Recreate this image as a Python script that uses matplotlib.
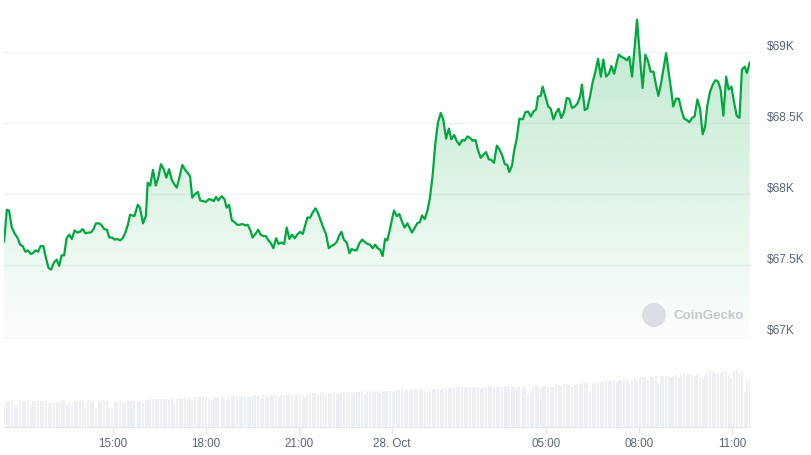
import matplotlib
matplotlib.use("Agg")
import matplotlib.pyplot as plt
import numpy as np
from matplotlib.colors import to_rgb
from matplotlib.patches import Ellipse

# ---- data (hours since 27 Oct 00:00, price in USD, 24h volume in $B) ----
hours = [
    11.48, 11.57, 11.64, 11.73, 11.83, 11.91, 12.00, 12.08, 12.17, 12.25,
    12.34, 12.42, 12.49, 12.58, 12.66, 12.75, 12.84, 12.92, 13.00, 13.09,
    13.18, 13.26, 13.34, 13.42, 13.50, 13.59, 13.67, 13.76, 13.85, 13.93,
    14.02, 14.11, 14.19, 14.28, 14.36, 14.45, 14.54, 14.62, 14.71, 14.80,
    14.88, 14.97, 15.05, 15.14, 15.23, 15.31, 15.40, 15.48, 15.55, 15.62,
    15.69, 15.80, 15.87, 15.97, 16.06, 16.12, 16.20, 16.29, 16.38, 16.46,
    16.55, 16.64, 16.72, 16.81, 16.90, 16.98, 17.06, 17.16, 17.24, 17.33,
    17.41, 17.49, 17.56, 17.65, 17.74, 17.82, 17.92, 18.00, 18.10, 18.19,
    18.25, 18.33, 18.40, 18.51, 18.60, 18.67, 18.75, 18.84, 18.92, 19.01,
    19.09, 19.18, 19.27, 19.35, 19.44, 19.51, 19.60, 19.69, 19.77, 19.86,
    19.94, 20.02, 20.10, 20.18, 20.27, 20.35, 20.44, 20.53, 20.61, 20.70,
    20.78, 20.87, 20.95, 21.04, 21.13, 21.21, 21.28, 21.37, 21.45, 21.54,
    21.62, 21.71, 21.80, 21.88, 21.97, 22.05, 22.14, 22.23, 22.31, 22.38,
    22.46, 22.55, 22.64, 22.71, 22.79, 22.87, 22.96, 23.05, 23.13, 23.22,
    23.30, 23.39, 23.47, 23.55, 23.63, 23.71, 23.79, 23.86, 23.95, 24.04,
    24.08, 24.17, 24.25, 24.34, 24.42, 24.51, 24.60, 24.66, 24.75, 24.83,
    24.92, 24.98, 25.07, 25.16, 25.24, 25.33, 25.41, 25.50, 25.59, 25.67,
    25.76, 25.85, 25.93, 26.02, 26.10, 26.19, 26.28, 26.36, 26.45, 26.53,
    26.62, 26.71, 26.79, 26.88, 26.96, 27.05, 27.14, 27.22, 27.31, 27.40,
    27.48, 27.57, 27.66, 27.74, 27.80, 27.89, 27.96, 28.04, 28.13, 28.24,
    28.32, 28.41, 28.50, 28.58, 28.67, 28.73, 28.82, 28.88, 28.97, 29.06,
    29.14, 29.23, 29.31, 29.40, 29.48, 29.57, 29.66, 29.74, 29.83, 29.92,
    30.00, 30.09, 30.15, 30.24, 30.32, 30.41, 30.50, 30.58, 30.67, 30.76,
    30.84, 30.93, 31.02, 31.10, 31.19, 31.27, 31.34, 31.42, 31.51, 31.60,
    31.68, 31.77, 31.86, 31.93, 32.03, 32.11, 32.20, 32.29, 32.37, 32.46,
    32.54, 32.62, 32.70, 32.78, 32.87, 32.95, 33.04, 33.10, 33.19, 33.28,
    33.36, 33.45, 33.54, 33.62, 33.71, 33.79, 33.88, 33.97, 34.05, 34.13,
    34.20, 34.29, 34.38, 34.46, 34.55, 34.63, 34.72, 34.81, 34.89, 34.98,
    35.06, 35.15, 35.24, 35.32, 35.41, 35.48, 35.57,
]

prices = [
    67665, 67890, 67885, 67765, 67720, 67695, 67645, 67635, 67595, 67605,
    67580, 67585, 67605, 67595, 67635, 67635, 67545, 67480, 67470, 67520,
    67540, 67495, 67570, 67570, 67690, 67715, 67685, 67745, 67730, 67735,
    67755, 67725, 67730, 67730, 67750, 67795, 67795, 67785, 67755, 67750,
    67695, 67695, 67680, 67685, 67675, 67690, 67730, 67785, 67855, 67850,
    67845, 67925, 67905, 67795, 67845, 68080, 68060, 68170, 68060, 68115,
    68210, 68175, 68115, 68175, 68100, 68070, 68045, 68130, 68205, 68170,
    68150, 68125, 67975, 68000, 68015, 67955, 67950, 67945, 67965, 67960,
    67950, 67980, 67955, 67985, 67965, 67905, 67925, 67815, 67805, 67785,
    67785, 67790, 67780, 67785, 67745, 67695, 67720, 67750, 67715, 67705,
    67705, 67675, 67655, 67620, 67690, 67650, 67660, 67650, 67765, 67685,
    67715, 67690, 67715, 67735, 67720, 67780, 67835, 67835, 67870, 67900,
    67870, 67815, 67760, 67720, 67620, 67635, 67645, 67665, 67710, 67735,
    67680, 67660, 67585, 67615, 67605, 67605, 67655, 67680, 67665, 67650,
    67645, 67620, 67645, 67620, 67610, 67565, 67685, 67675, 67755, 67850,
    67885, 67845, 67860, 67805, 67765, 67795, 67755, 67730, 67765, 67795,
    67805, 67850, 67825, 67885, 67975, 68140, 68350, 68505, 68570, 68525,
    68390, 68460, 68385, 68415, 68375, 68345, 68380, 68375, 68405, 68395,
    68375, 68380, 68310, 68255, 68275, 68295, 68245, 68240, 68220, 68340,
    68315, 68275, 68210, 68205, 68155, 68200, 68305, 68385, 68530, 68525,
    68575, 68580, 68545, 68580, 68595, 68685, 68690, 68755, 68685, 68615,
    68600, 68525, 68570, 68600, 68535, 68575, 68675, 68670, 68605, 68615,
    68635, 68685, 68770, 68590, 68600, 68685, 68790, 68855, 68950, 68825,
    68945, 68825, 68845, 68900, 68845, 68920, 68980, 68965, 68955, 68940,
    68965, 68825, 69050, 69225, 68945, 68745, 68980, 68930, 68860, 68860,
    68770, 68690, 68770, 68875, 68990, 68860, 68720, 68615, 68670, 68670,
    68595, 68530, 68520, 68505, 68535, 68545, 68665, 68595, 68420, 68475,
    68620, 68720, 68770, 68800, 68790, 68735, 68550, 68825, 68735, 68755,
    68650, 68550, 68535, 68875, 68895, 68850, 68925,
]

volumes = [
    11.5, 13.0, 13.2, 13.0, 10.8, 10.8, 13.0, 13.2, 13.0, 13.0, 11.2, 12.8, 12.8, 12.8, 13.0, 12.8, 13.0, 12.0, 12.0, 12.5,
    12.5, 12.5, 12.8, 13.5, 11.2, 12.0, 11.2, 13.0, 13.0, 13.0, 12.8, 12.5, 12.8, 13.0, 13.0, 9.0, 13.0, 13.0, 13.0, 13.0,
    9.5, 9.5, 13.0, 12.5, 13.0, 12.5, 12.0, 12.8, 12.5, 13.2, 13.0, 12.5, 13.0, 11.8, 13.5, 13.5, 14.0, 13.8, 14.0, 14.0,
    14.0, 14.2, 14.2, 13.5, 14.2, 12.5, 14.2, 14.5, 13.8, 14.5, 14.5, 14.0, 13.0, 14.8, 14.8, 15.0, 15.0, 15.0, 14.2, 13.5,
    15.0, 15.2, 15.2, 15.5, 14.2, 13.5, 15.0, 15.5, 15.5, 15.5, 14.8, 15.5, 15.5, 15.0, 15.8, 15.8, 16.0, 15.5, 14.0, 15.8,
    15.8, 15.5, 16.0, 16.2, 16.0, 15.2, 16.2, 16.2, 16.0, 16.5, 16.5, 15.8, 16.5, 16.5, 16.2, 15.0, 16.5, 16.8, 16.8, 16.8,
    16.5, 17.0, 17.0, 16.0, 17.0, 17.0, 17.2, 17.0, 16.5, 17.2, 17.2, 17.5, 17.5, 16.8, 17.5, 17.5, 17.5, 17.8, 16.5, 17.8,
    17.8, 17.5, 18.0, 18.0, 17.0, 18.0, 18.0, 18.2, 18.0, 17.5, 18.2, 18.5, 18.5, 18.5, 17.8, 18.5, 18.5, 18.8, 18.8, 18.5,
    18.8, 19.0, 18.0, 19.0, 19.0, 19.2, 19.2, 19.0, 18.5, 19.5, 19.5, 19.5, 19.8, 19.5, 19.8, 19.8, 20.0, 20.0, 19.8, 20.0,
    20.0, 20.2, 20.0, 19.0, 20.2, 20.2, 20.5, 20.5, 20.2, 20.5, 19.8, 20.0, 20.5, 20.5, 20.5, 20.2, 20.5, 20.0, 20.5, 20.5,
    20.0, 16.5, 17.0, 20.0, 20.5, 20.5, 19.5, 20.5, 20.5, 20.2, 20.0, 20.0, 21.5, 21.2, 20.5, 21.5, 21.5, 21.0, 20.0, 21.0,
    21.5, 21.5, 22.0, 22.0, 22.2, 18.0, 21.5, 22.5, 22.5, 22.5, 23.0, 23.0, 23.0, 23.0, 23.5, 22.5, 23.5, 23.5, 24.0, 24.0,
    22.0, 23.0, 24.5, 24.0, 25.0, 25.0, 25.0, 24.0, 25.0, 25.0, 25.5, 22.5, 25.5, 25.5, 25.5, 25.5, 25.0, 25.5, 26.5, 25.0,
    26.5, 26.5, 26.0, 26.5, 26.0, 25.5, 26.0, 24.5, 24.0, 25.5, 27.0, 28.0, 28.0, 27.0, 27.0, 27.0, 28.0, 28.0, 26.0, 24.5,
    28.0, 28.5, 27.5, 28.0, 17.5, 23.0, 24.5,
]

tick_hours = [15, 18, 21, 24, 29, 32, 35]
tick_labels = ["15:00", "18:00", "21:00", "28. Oct", "05:00", "08:00", "11:00"]
price_ticks = [67000, 67500, 68000, 68500, 69000]
price_labels = ["$67K", "$67.5K", "$68K", "$68.5K", "$69K"]

# ---- style ----
GREEN = "#00a83e"
GRID = "#eff2f5"
LABEL = "#58667e"
FONT = ["Liberation Sans", "DejaVu Sans"]
plt.rcParams["font.family"] = FONT

W, H = 811, 456
fig = plt.figure(figsize=(W / 100, H / 100), dpi=100)
fig.patch.set_facecolor("white")


def frac(x0, y0, x1, y1):
    return [x0 / W, 1 - y1 / H, (x1 - x0) / W, (y1 - y0) / H]


XLIM = (11.478, 35.58)
YLIM = (67000, 69335)

# ---- price panel ----
ax = fig.add_axes(frac(4, 5, 750, 337.5))
for s in ax.spines.values():
    s.set_visible(False)
ax.set_xticks([])
ax.set_yticks([])

for p, lab in zip(price_ticks, price_labels):
    ax.axhline(p, color=GRID, lw=1.0, zorder=0, clip_on=False)
    ax.annotate(lab, xy=(1, p), xycoords=ax.get_yaxis_transform(),
                xytext=(17, 6), textcoords="offset pixels",
                ha="left", va="center", fontsize=8.6, color=LABEL,
                annotation_clip=False)

poly = ax.fill_between(hours, prices, YLIM[0], facecolor="none",
                       edgecolor="none")
grad = np.zeros((256, 1, 4))
grad[:, :, :3] = to_rgb(GREEN)
grad[:, 0, 3] = np.linspace(0.015, 0.27, 256)
im = ax.imshow(grad, extent=[XLIM[0], XLIM[1], YLIM[0], YLIM[1]],
               origin="lower", aspect="auto", zorder=1)
im.set_clip_path(poly.get_paths()[0], transform=ax.transData)

ax.plot(hours, prices, color=GREEN, lw=1.6, solid_joinstyle="round",
        solid_capstyle="round", zorder=3)
ax.set_xlim(*XLIM)
ax.set_ylim(*YLIM)

# watermark
wx, wy = 654 / W, 1 - 316 / H
fig.patches.append(Ellipse((wx, wy), 24 / W, 24 / H,
                           transform=fig.transFigure,
                           facecolor="#dadee3", edgecolor="none", zorder=2))
fig.text(673 / W, wy, "CoinGecko", ha="left", va="center", fontsize=9.6,
         color="#c4c9d0", fontweight="bold")

# ---- volume panel ----
axv = fig.add_axes(frac(4, 345, 750, 428))
for k, s in axv.spines.items():
    s.set_visible(k == "bottom")
axv.spines["bottom"].set_color("#e3e7ec")
axv.bar(hours, volumes, width=0.062, color="#eceff3", linewidth=0,
        align="center")
axv.set_xlim(*XLIM)
axv.set_ylim(0, 41.5)
axv.set_yticks([])
axv.set_xticks(tick_hours)
axv.set_xticklabels(tick_labels)
axv.tick_params(axis="x", length=5, width=1, color="#e3e7ec",
                labelcolor=LABEL, labelsize=8.4, pad=2)

fig.savefig("out.png", dpi=100, facecolor="white")
